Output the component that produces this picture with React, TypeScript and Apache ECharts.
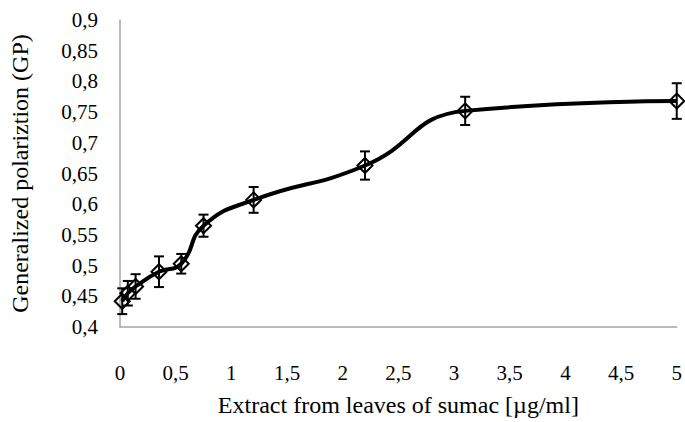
import React, { useEffect, useRef } from "react";
import * as echarts from "echarts";

const concentrations = [0.02, 0.07, 0.14, 0.35, 0.55, 0.75, 1.2, 2.2, 3.1, 5];
const gpValues = [0.442, 0.455, 0.466, 0.49, 0.503, 0.565, 0.607, 0.663, 0.752, 0.768];
const gpErrors = [0.021, 0.02, 0.02, 0.025, 0.016, 0.018, 0.021, 0.023, 0.023, 0.029];

const FONT = "'Liberation Serif', 'Times New Roman', serif";
const fmt = (v: number) => String(Math.round(v * 100) / 100).replace(".", ",");

export default function App() {
  const ref = useRef<HTMLDivElement>(null);
  useEffect(() => {
    document.body.style.margin = "0";
    const chart = echarts.init(ref.current!, null, { renderer: "svg" });
    const lineData = concentrations.map((x, i) => [x, gpValues[i]]);
    const errData = concentrations.map((x, i) => [x, gpValues[i] - gpErrors[i], gpValues[i] + gpErrors[i]]);
    chart.setOption({
      animation: false,
      backgroundColor: "#fff",
      grid: { left: 116, right: 5, top: 20, bottom: 92 },
      xAxis: {
        type: "value",
        min: 0,
        max: 5,
        interval: 0.5,
        name: "Extract from leaves of sumac [µg/ml]",
        nameLocation: "middle",
        nameGap: 66,
        nameTextStyle: { fontFamily: FONT, fontSize: 24, color: "#000" },
        axisLine: { show: true, lineStyle: { color: "#a6a6a6", width: 1.5 } },
        axisTick: { show: false },
        splitLine: { show: false },
        axisLabel: { fontFamily: FONT, fontSize: 21, color: "#000", margin: 35, formatter: fmt },
      },
      yAxis: {
        type: "value",
        min: 0.4,
        max: 0.9,
        interval: 0.05,
        name: "Generalized polariztion (GP)",
        nameLocation: "middle",
        nameGap: 88,
        nameTextStyle: { fontFamily: FONT, fontSize: 24, color: "#000" },
        axisLine: { show: true, lineStyle: { color: "#a6a6a6", width: 1.5 } },
        axisTick: { show: false },
        splitLine: { show: false },
        axisLabel: { fontFamily: FONT, fontSize: 21, color: "#000", margin: 22, formatter: fmt },
      },
      series: [
        {
          type: "line",
          data: lineData,
          smooth: 0.5,
          symbol: "diamond",
          symbolSize: 15,
          lineStyle: { color: "#000", width: 4 },
          itemStyle: { color: "rgba(255,255,255,0)", borderColor: "#000", borderWidth: 2 },
          z: 3,
        },
        {
          type: "custom",
          data: errData,
          z: 4,
          renderItem: (params: any, api: any) => {
            const x = api.value(0);
            const lo = api.coord([x, api.value(1)]);
            const hi = api.coord([x, api.value(2)]);
            const w = 5;
            const style = { stroke: "#000", lineWidth: 2 };
            return {
              type: "group",
              children: [
                { type: "line", shape: { x1: lo[0], y1: lo[1], x2: hi[0], y2: hi[1] }, style },
                { type: "line", shape: { x1: hi[0] - w, y1: hi[1], x2: hi[0] + w, y2: hi[1] }, style },
                { type: "line", shape: { x1: lo[0] - w, y1: lo[1], x2: lo[0] + w, y2: lo[1] }, style },
              ],
            };
          },
        },
      ],
    });
    return () => chart.dispose();
  }, []);
  return <div ref={ref} style={{ width: 685, height: 422 }} />;
}
